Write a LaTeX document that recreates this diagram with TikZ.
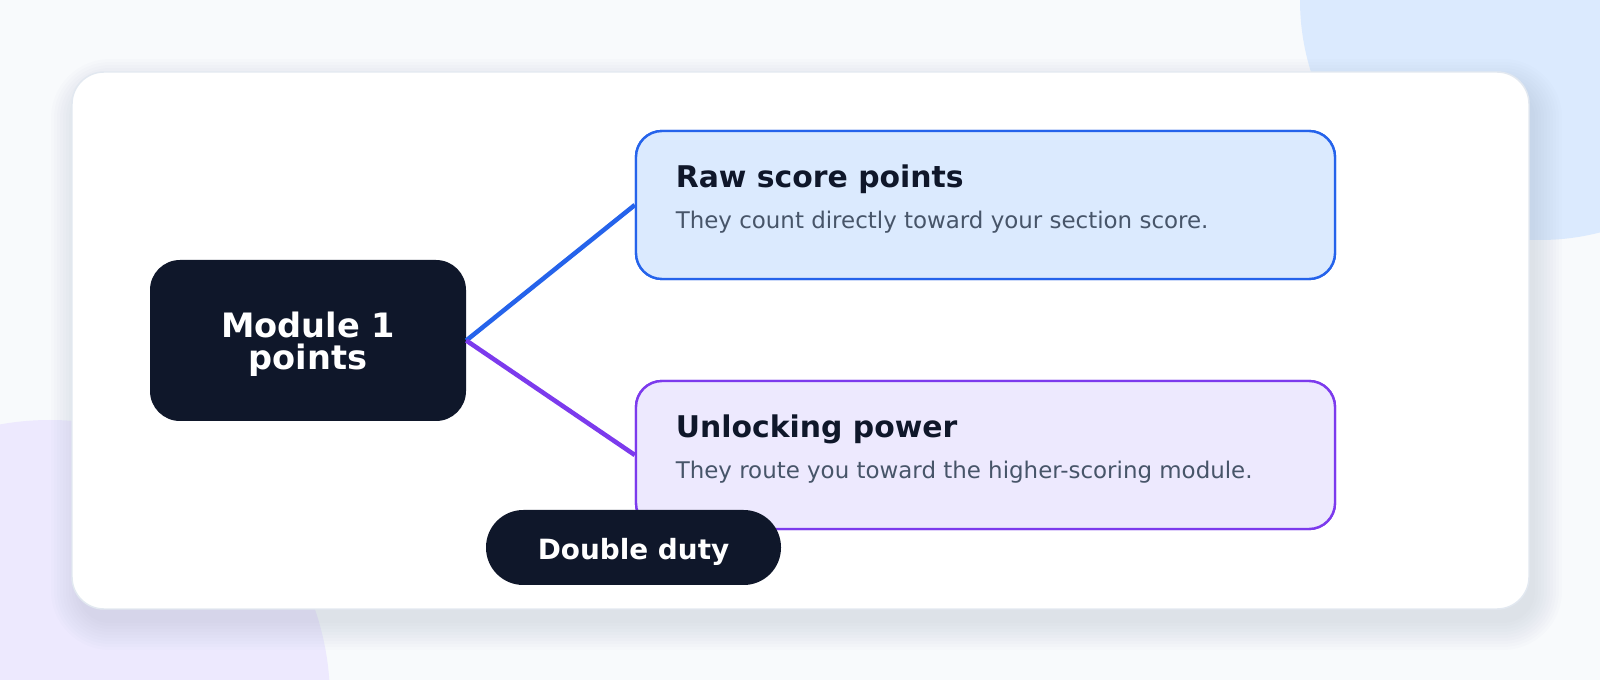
\documentclass[tikz,border=0pt]{standalone}
\usepackage{fontspec}
\setmainfont{DejaVu Sans}
\definecolor{bg}{HTML}{F8FAFC}
\definecolor{blobblue}{HTML}{DBEAFE}
\definecolor{blobviolet}{HTML}{EDE9FE}
\definecolor{cardline}{HTML}{E2E8F0}
\definecolor{shadowcol}{HTML}{3A4590}
\definecolor{ink}{HTML}{0F172A}
\definecolor{subink}{HTML}{475569}
\definecolor{blueline}{HTML}{2563EB}
\definecolor{blueface}{HTML}{DBEAFE}
\definecolor{violetline}{HTML}{7C3AED}
\definecolor{violetface}{HTML}{EDE9FE}
\tikzset{
  darkbox/.style={fill=ink, inner sep=0pt, minimum width=237pt, minimum height=120.75pt, rounded corners=22.5pt},
  pillbox/.style={fill=ink, inner sep=0pt, minimum width=221.25pt, minimum height=56.25pt, rounded corners=28pt},
  cardbox/.style={line width=1.8pt, inner sep=0pt, minimum width=524.25pt, minimum height=111pt, rounded corners=19.5pt},
  bluebox/.style={cardbox, draw=blueline, fill=blueface},
  violetbox/.style={cardbox, draw=violetline, fill=violetface},
  modtext/.style={text=white, font=\fontsize{25.2}{24}\selectfont\bfseries, inner sep=0pt, anchor=base},
  pilltext/.style={text=white, font=\fontsize{20.9}{24}\selectfont\bfseries, inner sep=0pt, anchor=base},
  titletext/.style={text=ink, font=\fontsize{22.4}{26}\selectfont\bfseries, inner sep=0pt, anchor=base west},
  subtext/.style={text=subink, font=\fontsize{17.2}{20}\selectfont, inner sep=0pt, anchor=base west},
  linkline/.style={line width=3.4pt}
}
\begin{document}
\begin{tikzpicture}[x=0.75pt,y=-0.75pt]
\useasboundingbox (0,0) rectangle (1600,680);
\fill[bg] (0,0) rectangle (1600,680);
\begin{scope}
  \clip (0,0) rectangle (1600,680);
  \fill[blobblue] (1540,0) circle[radius=180pt];
  \fill[blobviolet] (50,700) circle[radius=210pt];
\end{scope}
% card shadow
\foreach \r in {0,3,...,27} {
  \pgfmathsetmacro\rc{(32+\r)*0.75}
  \fill[shadowcol, opacity=0.010, rounded corners=\rc pt] (78-\r, 86-\r) rectangle (1535+\r, 623+\r);
}
% card
\draw[cardline, line width=1.1pt, fill=white, rounded corners=24pt] (72,72) rectangle (1529,609);
% nodes
\node[darkbox] (mod) at (308,340.5) {};
\node[bluebox] (raw) at (985.5,205) {};
\node[violetbox] (unl) at (985.5,455) {};
% connectors
\draw[linkline, blueline] (mod.east) -- (raw.west);
\draw[linkline, violetline] (mod.east) -- (unl.west);
% redraw boxes above line ends
\node[bluebox] (raw2) at (985.5,205) {};
\node[violetbox] (unl2) at (985.5,455) {};
% texts
\node[modtext] (modA) at (308,338) {Module 1};
\node[modtext] (modB) at (308,370) {points};
\node[titletext] (rawT) at (675.5,188) {Raw score points};
\node[subtext] (rawS) at (675.5,228.4) {They count directly toward your section score.};
\node[titletext] (unlT) at (675.5,437.8) {Unlocking power};
\node[subtext] (unlS) at (675.5,478.6) {They route you toward the higher-scoring module.};
\node[pillbox] (pill) at (633.5,547.5) {};
\node[pilltext] (pillT) at (633.5,560) {Double duty};
\end{tikzpicture}
\end{document}
